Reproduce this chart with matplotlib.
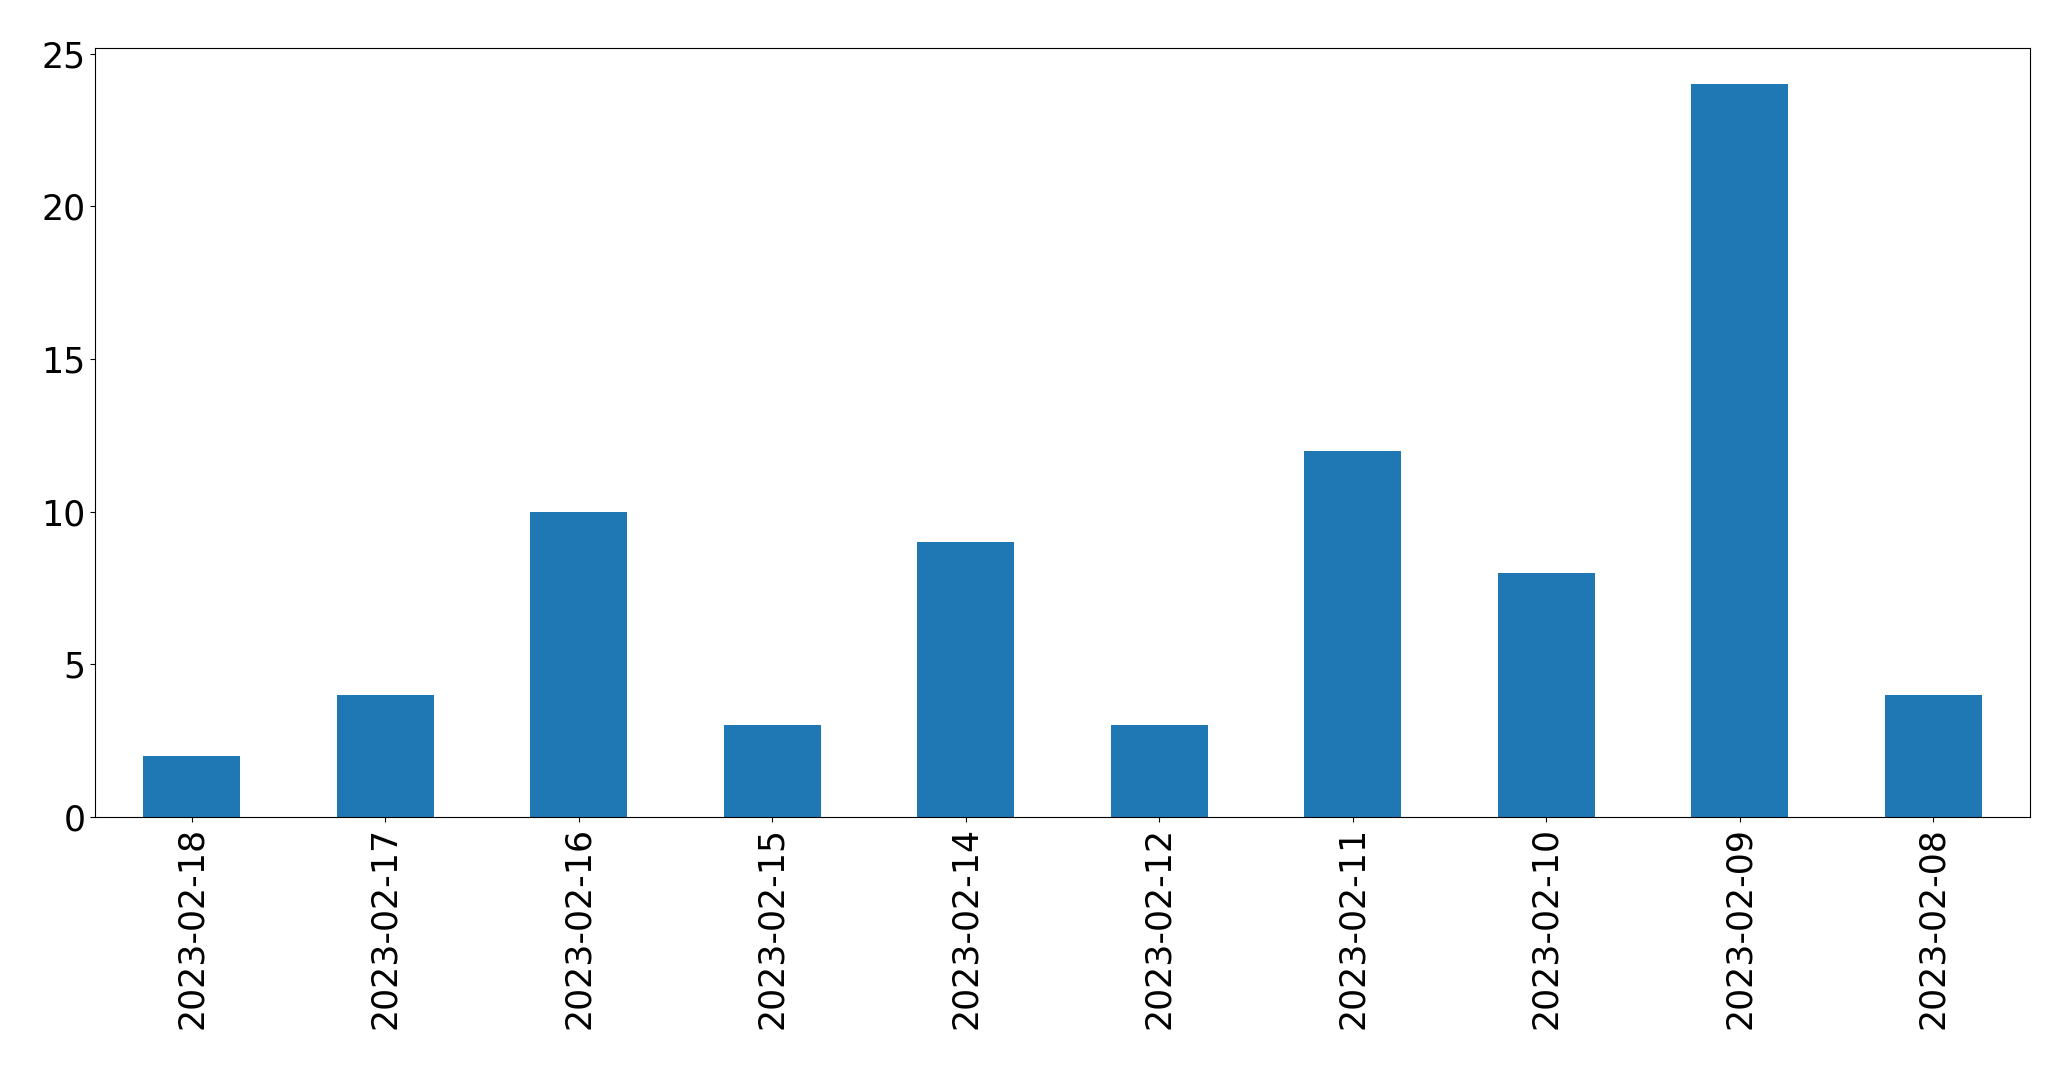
import matplotlib
matplotlib.use('Agg')
import matplotlib.pyplot as plt
import pandas as pd

fechas = ['2023-02-18', '2023-02-17', '2023-02-16', '2023-02-15', '2023-02-14',
          '2023-02-12', '2023-02-11', '2023-02-10', '2023-02-09', '2023-02-08']
conteos = [2, 4, 10, 3, 9, 3, 12, 8, 24, 4]

serie = pd.Series(conteos, index=fechas)

fig = plt.figure(figsize=(20.71, 10.69), dpi=100)
ax = fig.add_axes([95 / 2071, 1 - 817 / 1069, (2030 - 95) / 2071, (817 - 47.5) / 1069])
serie.plot(kind='bar', ax=ax, color='#1f77b4')
ax.tick_params(axis='both', labelsize=25)
ax.set_yticks([0, 5, 10, 15, 20, 25])

fig.savefig('out.png', dpi=100)
